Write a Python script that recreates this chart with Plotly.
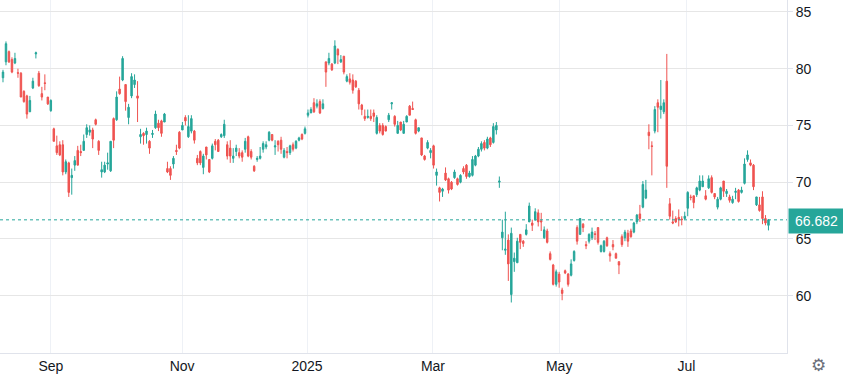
import plotly.graph_objects as go

# OHLC values (one candle per trading day)
opens = [79.2,80.6,81.5,80.8,80.5,79.65,79.6,78.0,77.6,76.2,78.3,81.3,79.6,77.8,78.75,77.5,76.3,74.7,73.2,73.3,
         73.3,70.9,71.7,70.4,71.5,72.8,72.7,72.8,74.2,74.4,74.6,75.5,73.6,70.9,70.9,71.6,71.0,75.6,75.5,78.2,
         79.0,78.6,75.7,77.6,78.6,77.6,74.0,74.3,74.2,73.6,74.2,74.8,75.2,75.4,75.3,71.2,71.2,71.6,72.8,74.4,
         74.6,75.7,74.0,74.5,74.5,72.1,72.7,71.3,73.1,72.0,72.1,73.6,73.7,74.0,74.1,73.3,73.0,72.1,72.7,72.6,
         72.6,72.9,74.0,72.7,71.4,72.0,72.1,72.9,73.1,73.7,74.2,73.1,73.6,73.7,72.2,72.7,72.6,73.3,73.0,73.7,
         74.2,74.3,75.9,76.1,77.0,76.7,77.1,76.5,80.6,80.5,80.4,80.5,81.7,80.6,81.1,78.9,79.1,79.0,78.9,78.1,
         76.8,75.8,75.7,75.8,76.1,74.3,75.0,75.0,74.9,75.5,76.9,75.8,74.3,75.3,74.3,75.3,76.7,76.5,75.5,74.5,
         73.9,72.3,73.0,72.6,73.2,70.6,69.5,69.2,70.8,70.3,70.0,70.4,70.3,70.0,71.2,71.5,70.5,70.6,71.5,72.3,
         72.9,73.5,73.0,73.9,73.5,74.6,70.0,65.1,64.0,64.9,60.1,63.0,62.9,65.4,64.8,65.4,66.5,66.4,66.7,67.3,
         66.6,65.1,65.7,63.7,62.7,61.0,61.9,60.5,62.2,61.9,61.8,63.1,66.0,65.4,66.3,64.5,64.8,65.1,65.45,66.0,
         63.9,63.9,65.1,63.7,64.5,63.7,63.0,65.2,65.1,65.5,65.7,65.6,66.5,67.2,67.8,68.6,74.4,73.2,74.5,77.0,
         76.4,76.2,78.9,68.1,66.5,66.8,66.9,66.75,66.8,67.7,68.7,68.8,68.9,69.3,69.6,68.8,69.5,70.4,69.0,67.8,
         68.5,70.1,69.0,68.7,68.2,69.1,69.3,69.1,69.9,72.0,71.7,71.5,68.0,68.0,68.7,66.8,66.2]
highs = [79.9,82.4,81.6,81.0,81.4,80.0,79.7,78.1,77.7,77.6,79.2,81.5,79.8,78.4,79.5,77.5,77.3,74.8,74.1,73.6,
         73.7,72.0,71.8,71.2,72.3,73.2,73.3,74.2,75.1,75.0,74.8,75.6,73.7,71.8,71.8,72.6,73.6,75.7,78.0,79.3,
         81.1,78.6,76.9,79.6,79.5,78.9,74.7,74.4,74.8,73.7,74.6,76.3,75.5,75.5,76.1,71.8,71.4,72.3,73.3,74.5,
         75.3,75.9,75.9,75.9,74.6,72.4,72.8,72.5,73.1,72.0,73.4,73.8,73.8,74.3,75.5,73.6,73.7,73.0,73.3,73.0,
         72.8,73.9,74.1,72.9,71.5,72.3,73.1,73.6,73.6,74.5,74.2,73.7,73.7,74.0,73.0,73.1,73.3,73.5,73.7,74.0,
         74.3,74.9,76.4,76.6,77.4,77.3,77.3,77.3,80.6,81.4,80.5,82.5,81.8,81.2,81.1,79.5,79.6,79.5,79.0,78.3,
         76.9,76.4,76.4,76.4,76.4,75.9,75.2,75.2,75.0,76.1,77.0,75.9,75.4,75.3,75.4,75.9,76.8,77.1,75.6,74.8,
         73.9,72.4,73.7,73.0,73.3,71.2,69.6,69.5,71.3,70.4,70.1,71.1,70.4,70.7,71.4,71.6,71.0,72.3,72.4,73.1,
         73.6,73.7,74.0,74.0,75.2,75.3,70.5,66.7,67.4,65.4,66.0,63.8,65.1,65.4,64.9,66.3,68.2,66.7,67.7,67.6,
         67.3,66.1,65.9,63.9,62.8,62.3,62.1,60.7,62.3,62.0,63.2,64.0,66.2,66.8,66.4,64.8,65.5,66.0,65.7,66.0,
         64.5,64.9,65.2,63.9,64.9,63.8,63.0,65.4,65.8,65.8,65.9,66.5,67.2,68.0,70.1,70.2,75.1,73.6,76.7,77.3,
         79.0,77.3,81.3,68.6,67.5,67.0,67.6,67.0,67.4,69.2,68.9,68.8,69.6,70.6,70.6,69.3,70.6,70.6,69.0,68.7,
         69.6,70.1,69.4,68.9,68.8,69.5,69.4,69.6,72.1,72.8,72.0,71.6,68.7,68.7,69.2,67.1,66.75]
lows = [78.8,80.3,80.5,79.6,80.4,79.2,77.5,77.0,75.6,76.2,78.2,80.9,78.4,77.2,78.1,76.8,76.2,73.6,72.4,72.3,
        70.6,70.7,68.7,68.9,71.0,71.5,72.3,72.8,73.9,74.1,73.0,75.0,72.4,70.4,70.8,71.1,70.9,73.0,75.4,77.7,
        78.9,76.3,75.1,77.4,78.3,75.3,73.4,73.3,73.4,72.5,73.9,74.7,74.5,74.0,75.3,70.8,70.2,71.2,72.4,72.9,
        74.6,75.0,73.9,74.3,73.4,71.5,71.5,70.7,72.0,70.8,72.0,72.8,72.7,73.9,73.9,72.0,71.7,71.7,72.3,72.1,
        71.8,72.6,72.2,72.0,70.9,71.8,72.0,72.6,72.9,73.6,73.6,72.4,72.7,72.5,72.1,72.1,72.4,72.7,72.9,73.6,
        73.7,74.2,75.7,76.1,76.1,76.5,76.0,76.4,78.4,80.3,79.8,80.4,80.4,80.5,79.5,78.8,78.6,77.8,78.3,76.4,
        75.9,75.4,75.6,75.4,75.3,74.2,74.3,74.1,74.5,75.3,76.4,74.9,74.3,74.5,74.3,75.3,75.9,76.4,74.2,74.4,
        72.3,71.9,72.9,72.1,71.2,69.7,68.3,68.7,70.1,69.0,69.3,70.3,69.7,69.9,70.7,70.3,70.4,70.5,71.4,72.2,
        72.7,72.8,72.9,73.1,73.4,74.2,69.5,64.0,63.6,61.3,59.4,62.1,62.9,64.1,64.3,65.3,66.5,65.7,66.6,66.1,
        65.7,65.0,64.6,63.1,60.9,60.8,60.7,59.6,61.9,60.8,61.7,63.0,64.5,65.4,65.6,64.1,64.6,64.9,64.9,64.5,
        63.8,63.8,64.3,63.0,64.0,63.3,61.9,64.3,64.8,64.3,65.1,65.5,66.3,66.5,67.7,68.5,72.9,70.6,74.3,74.4,
        75.6,76.0,69.5,66.7,66.3,66.4,66.1,66.2,66.7,67.0,68.4,67.7,68.7,69.2,69.6,68.4,69.4,69.0,68.5,67.6,
        68.4,68.7,68.7,68.2,68.1,68.5,68.2,69.0,69.8,71.8,71.4,69.3,67.9,67.4,66.3,66.2,65.75]
closes = [79.7,82.2,80.6,79.7,80.9,79.6,77.5,77.1,76.0,77.2,78.9,81.4,78.5,77.5,78.7,76.9,77.2,73.6,72.6,72.4,
          70.9,71.8,69.1,70.6,71.9,71.5,72.6,73.6,74.8,74.6,73.8,75.1,72.8,71.1,71.5,71.7,73.6,73.7,77.5,77.8,
          80.9,77.1,76.6,79.3,79.0,77.4,74.2,74.1,74.5,73.0,74.3,76.0,74.8,74.3,76.0,70.9,70.6,72.1,72.7,73.0,
          75.0,75.4,74.9,75.6,73.7,71.7,71.7,72.3,72.4,70.9,73.2,73.3,72.7,74.2,75.1,72.3,72.3,72.3,73.0,72.3,
          72.2,73.6,72.3,72.2,71.0,72.1,72.3,73.4,73.3,74.4,73.7,73.2,73.3,72.9,72.8,72.6,73.2,72.9,73.6,73.9,
          73.8,74.7,76.1,76.4,76.2,76.9,76.1,76.9,79.7,80.9,79.9,82.0,81.2,80.8,79.7,79.3,78.8,78.1,78.4,76.9,
          76.4,75.6,75.8,75.6,75.8,75.7,74.5,74.2,74.5,75.9,77.0,75.1,75.0,74.6,75.1,75.8,75.9,76.4,74.3,74.8,
          72.4,72.0,73.5,72.8,71.5,70.9,69.1,69.4,70.2,69.3,69.4,70.9,69.8,70.6,70.9,70.5,70.8,72.0,72.3,72.9,
          73.4,73.0,73.8,73.3,74.9,75.0,70.1,65.6,64.1,62.8,65.5,63.3,64.8,64.7,64.6,65.8,67.9,66.2,67.4,66.5,
          66.5,65.8,64.7,63.2,61.0,62.1,61.2,60.2,62.0,61.0,62.8,63.9,64.8,66.8,66.0,64.4,65.4,65.6,65.4,64.7,
          64.4,64.8,64.4,63.5,64.3,63.3,62.7,64.5,65.6,64.8,65.2,66.4,67.1,66.8,69.8,69.3,74.1,73.15,76.4,76.6,
          76.7,77.0,71.4,67.0,66.4,66.5,66.7,66.7,67.0,69.1,68.65,68.2,69.5,70.1,70.1,68.5,70.3,69.1,68.7,68.5,
          69.5,69.2,69.2,68.4,68.5,69.2,68.3,69.3,71.6,72.4,71.5,69.6,68.7,67.5,66.8,66.4,66.682]

# x-axis month labels and their positions on the trading-day index
tick_labels = ["Sep", "Nov", "2025", "Mar", "May", "Jul"]
tick_positions = [16.0, 59.9, 101.7, 143.8, 186.0, 228.6]
price_ticks = [60, 65, 70, 75, 80, 85]

UP = "#26a69a"
DOWN = "#ef5350"
FONT = "Liberation Sans, Arial, sans-serif"

idx = list(range(len(opens)))
last_price = closes[-1]

fig = go.Figure(go.Candlestick(
    x=idx, open=opens, high=highs, low=lows, close=closes,
    increasing=dict(line=dict(color=UP, width=1), fillcolor=UP),
    decreasing=dict(line=dict(color=DOWN, width=1), fillcolor=DOWN),
    whiskerwidth=0, showlegend=False, hoverinfo="skip",
))

fig.add_shape(type="line", xref="paper", x0=0, x1=1, yref="y", y0=last_price, y1=last_price,
              line=dict(color=UP, width=1, dash="dot"))

fig.add_annotation(xref="paper", x=1, xanchor="left", yref="y", y=last_price, yanchor="middle",
                   text=f"{last_price:.3f}", showarrow=False, bgcolor=UP,
                   font=dict(color="white", size=14, family=FONT),
                   width=51, height=20, borderpad=2, xshift=1, yshift=-1)

fig.add_annotation(xref="paper", x=1, xanchor="center", yref="paper", y=0, yanchor="middle",
                   text="⚙", showarrow=False, xshift=31, yshift=-12,
                   font=dict(color="#6a6d78", size=17, family="DejaVu Sans"))

fig.update_layout(
    width=843, height=376,
    margin=dict(l=0, r=56, t=0, b=23),
    paper_bgcolor="white", plot_bgcolor="white",
    font=dict(family=FONT, size=14, color="#131722"),
    xaxis=dict(
        range=[-1.0, 262.2], rangeslider=dict(visible=False),
        tickmode="array", tickvals=tick_positions, ticktext=tick_labels,
        showgrid=True, gridcolor="#eef1f6", gridwidth=1,
        showline=True, linecolor="#e0e3eb", linewidth=1,
        zeroline=False, ticks="", tickfont=dict(size=14, color="#131722"),
        fixedrange=True,
    ),
    yaxis=dict(
        side="right", range=[54.95, 86.05],
        tickmode="array", tickvals=price_ticks,
        showgrid=True, gridcolor="#e6e6e6", gridwidth=1,
        showline=True, linecolor="#e0e3eb", linewidth=1,
        zeroline=False, ticks="outside", ticklen=5, tickcolor="#e0e3eb",
        tickfont=dict(size=14, color="#131722"),
        fixedrange=True,
    ),
)

fig.write_html("out.html", config={"displayModeBar": False},
               post_script="document.body.style.margin='0';document.body.style.overflow='hidden';")
